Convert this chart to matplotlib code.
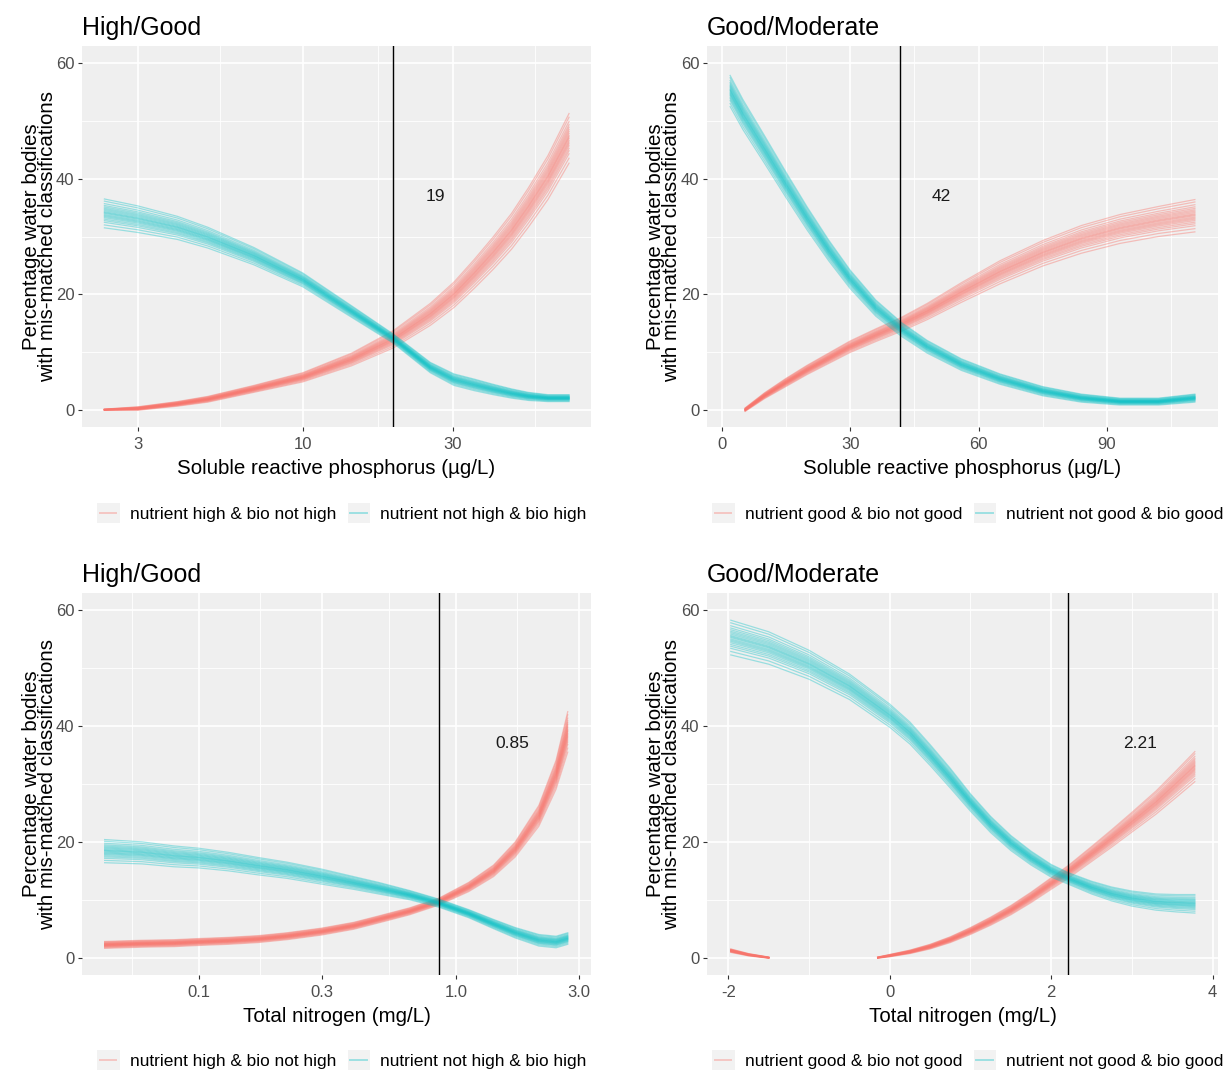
import numpy as np
import matplotlib
matplotlib.use('Agg')
import matplotlib.pyplot as plt
from matplotlib.lines import Line2D
from matplotlib.patches import Rectangle
from matplotlib.legend_handler import HandlerBase
from matplotlib.ticker import FixedLocator, FixedFormatter, NullFormatter

plt.rcParams['font.family'] = ['Liberation Sans', 'DejaVu Sans']

RED = '#F8766D'
CYAN = '#00BFC4'

# ---- data: x, centre of the bundle, half-width of the bundle ----
# High/Good, soluble reactive phosphorus (ug/L)
srp_hg_x = [2.35, 3.0, 4.0, 5.0, 7.0, 10, 14.3, 19.4, 25.4, 30.2, 35, 40.2, 46, 52, 60, 70]
srp_hg_red = [0.0, 0.2, 1.0, 1.8, 3.6, 5.6, 8.7, 12.2, 16.5, 19.9, 23.5, 27.1, 30.9, 35.0, 40.2, 47.0]
srp_hg_red_sd = [0.1, 0.3, 0.4, 0.5, 0.6, 0.8, 1.1, 1.5, 1.9, 2.2, 2.5, 2.8, 3.1, 3.4, 3.8, 4.3]
srp_hg_cyan = [34.0, 33.0, 31.5, 29.8, 26.6, 22.5, 17.0, 12.3, 7.3, 5.2, 4.3, 3.5, 2.8, 2.3, 2.0, 2.0]
srp_hg_cyan_sd = [2.5, 2.3, 2.0, 1.8, 1.5, 1.2, 1.0, 0.8, 0.9, 1.0, 1.0, 0.9, 0.8, 0.7, 0.6, 0.6]

# Good/Moderate, soluble reactive phosphorus (ug/L)
srp_gm_red_x = [5.5, 10, 15, 20, 25, 30, 36, 42, 48, 56, 65, 75, 84, 93, 102, 110.5]
srp_gm_red = [0.0, 2.4, 4.7, 6.9, 8.9, 10.9, 12.9, 14.8, 17.0, 20.3, 23.8, 27.1, 29.5, 31.3, 32.6, 33.6]
srp_gm_red_sd = [0.3, 0.5, 0.7, 0.8, 0.9, 1.0, 1.1, 1.2, 1.4, 1.7, 2.0, 2.2, 2.4, 2.5, 2.6, 2.8]
srp_gm_cyan_x = [2, 5, 10, 15, 20, 25, 30, 36, 42, 48, 56, 65, 75, 84, 93, 102, 110.5]
srp_gm_cyan = [55.2, 51.1, 45.1, 39.0, 33.1, 27.6, 22.6, 17.6, 13.9, 10.9, 7.8, 5.3, 3.2, 2.0, 1.4, 1.4, 2.0]
srp_gm_cyan_sd = [2.7, 2.6, 2.4, 2.2, 2.0, 1.8, 1.6, 1.4, 1.2, 1.1, 1.0, 0.9, 0.8, 0.7, 0.6, 0.6, 0.7]

# High/Good, total nitrogen (mg/L)
tn_hg_x = [0.043, 0.06, 0.08, 0.1, 0.13, 0.17, 0.22, 0.3, 0.4, 0.5, 0.66, 0.86, 1.12, 1.4, 1.7, 2.1, 2.45, 2.72]
tn_hg_red = [2.2, 2.4, 2.5, 2.7, 2.9, 3.2, 3.7, 4.5, 5.5, 6.6, 8.0, 9.7, 12.2, 15.0, 18.7, 24.5, 31.6, 39.0]
tn_hg_red_sd = [0.6, 0.6, 0.6, 0.6, 0.6, 0.6, 0.6, 0.6, 0.6, 0.6, 0.6, 0.6, 0.8, 1.0, 1.3, 1.8, 2.5, 3.5]
tn_hg_cyan = [18.4, 18.1, 17.5, 17.2, 16.6, 15.8, 15.1, 14.0, 12.9, 12.0, 10.8, 9.4, 7.6, 5.8, 4.3, 3.0, 2.7, 3.3]
tn_hg_cyan_sd = [2.0, 1.9, 1.8, 1.7, 1.6, 1.5, 1.4, 1.3, 1.1, 1.0, 0.8, 0.7, 0.7, 0.8, 0.9, 1.0, 1.0, 1.0]

# Good/Moderate, total nitrogen (mg/L) - red bundle has a gap (values below 0 dropped)
tn_gm_red_x = [-1.97, -1.75, -1.5, -0.8, -0.15, 0, 0.25, 0.5, 0.75, 1.0, 1.25, 1.5, 1.75, 2.0, 2.21,
               2.5, 2.75, 3.0, 3.3, 3.55, 3.78]
tn_gm_red = [1.2, 0.5, 0.0, np.nan, 0.0, 0.35, 1.0, 1.9, 3.1, 4.6, 6.3, 8.2, 10.4, 12.8, 14.8,
             17.9, 20.6, 23.4, 26.8, 30.0, 33.0]
tn_gm_red_sd = [0.3, 0.2, 0.1, np.nan, 0.1, 0.2, 0.3, 0.4, 0.5, 0.6, 0.7, 0.8, 0.9, 1.0, 1.1,
                1.3, 1.5, 1.7, 2.0, 2.3, 2.6]
tn_gm_cyan_x = [-1.97, -1.5, -1.0, -0.5, 0, 0.25, 0.5, 0.75, 1.0, 1.25, 1.5, 1.75, 2.0, 2.21,
                2.5, 2.75, 3.0, 3.3, 3.55, 3.78]
tn_gm_cyan = [55.3, 53.5, 50.6, 46.8, 41.8, 38.8, 35.0, 31.0, 26.8, 23.0, 19.8, 17.2, 15.0, 13.7,
              12.1, 11.0, 10.2, 9.6, 9.4, 9.3]
tn_gm_cyan_sd = [3.0, 2.8, 2.5, 2.2, 2.0, 1.9, 1.8, 1.7, 1.5, 1.4, 1.3, 1.2, 1.1, 1.0,
                 1.1, 1.2, 1.3, 1.4, 1.5, 1.6]

thresholds = [19.4, 41.6, 0.86, 2.21]
threshold_labels = ['19', '42', '0.85', '2.21']
titles = ['High/Good', 'Good/Moderate', 'High/Good', 'Good/Moderate']
xlabels = ['Soluble reactive phosphorus (\u00b5g/L)', 'Soluble reactive phosphorus (\u00b5g/L)',
           'Total nitrogen (mg/L)', 'Total nitrogen (mg/L)']
legend_hg = ['nutrient high & bio not high', 'nutrient not high & bio high']
legend_gm = ['nutrient good & bio not good', 'nutrient not good & bio good']

# relative positions of the individual bootstrap curves inside a bundle
boot_offsets = [-1.0, -0.8, -0.62, -0.5, -0.4, -0.3, -0.22, -0.15, -0.08, 0.0,
                0.06, 0.12, 0.2, 0.28, 0.36, 0.45, 0.55, 0.68, 0.85, 1.0]


class KeyBox(HandlerBase):
    # ggplot-style legend key: grey square with a faint line
    def create_artists(self, legend, orig_handle, xdescent, ydescent, width, height, fontsize, trans):
        box = Rectangle((-xdescent, -ydescent), width, height, facecolor='#F2F2F2',
                        edgecolor='none', transform=trans)
        ln = Line2D([-xdescent + 0.1 * width, -xdescent + 0.85 * width],
                    [height / 2 - ydescent] * 2, color=orig_handle.get_color(),
                    alpha=0.35, lw=1.4, transform=trans)
        return [box, ln]


W, H = 1223, 1070
fig = plt.figure(figsize=(W / 100, H / 100), dpi=100)


def px_axes(left, top, right, bottom):
    return fig.add_axes([left / W, 1 - bottom / H, (right - left) / W, (bottom - top) / H])


def bundle(ax, x, y, sd, color, alpha):
    x = np.asarray(x, float)
    y = np.asarray(y, float)
    sd = np.asarray(sd, float)
    for f in boot_offsets:
        ax.plot(x, y + f * sd, color=color, lw=0.9, alpha=alpha, zorder=2)


def panel(ax, i, red, cyan, log, xlim, xticks, xticklabels, xminor, label_x, legend_labels, legend_xy):
    ax.set_facecolor('#EFEFEF')
    for s in ax.spines.values():
        s.set_visible(False)
    if log:
        ax.set_xscale('log')
    bundle(ax, *red, RED, 0.42)
    bundle(ax, *cyan, CYAN, 0.36)
    ax.axvline(thresholds[i], color='black', lw=1.0, zorder=3)
    ax.text(label_x, 37.0, threshold_labels[i], ha='center', va='center', fontsize=12.5, color='#1A1A1A')

    ax.set_xlim(*xlim)
    ax.set_ylim(-3, 63)
    ax.xaxis.set_major_locator(FixedLocator(xticks))
    ax.xaxis.set_major_formatter(FixedFormatter(xticklabels))
    ax.xaxis.set_minor_locator(FixedLocator(xminor))
    ax.xaxis.set_minor_formatter(NullFormatter())
    ax.yaxis.set_major_locator(FixedLocator([0, 20, 40, 60]))
    ax.yaxis.set_minor_locator(FixedLocator([10, 30, 50]))
    ax.grid(which='major', color='white', lw=1.2)
    ax.grid(which='minor', color='white', lw=0.6)
    ax.set_axisbelow(True)
    ax.tick_params(which='major', length=3, width=0.8, color='#333333', labelcolor='#4D4D4D',
                   labelsize=12, pad=2.5)
    ax.tick_params(axis='x', which='major', pad=4.5)
    ax.tick_params(which='minor', length=0)

    ax.set_title(titles[i], loc='left', fontsize=18, pad=8)
    ax.set_xlabel(xlabels[i], fontsize=14.8)
    ax.xaxis.set_label_coords(0.5, -0.083)
    ax.set_ylabel('Percentage water bodies\nwith mis-matched classifications', fontsize=14.8, linespacing=0.8)
    ax.yaxis.set_label_coords(-0.05, 0.5)

    handles = [Line2D([], [], color=RED), Line2D([], [], color=CYAN)]
    fig.legend(handles, legend_labels, handler_map={Line2D: KeyBox()}, loc='center',
               bbox_to_anchor=(legend_xy[0] / W, 1 - legend_xy[1] / H), ncol=2, frameon=False,
               fontsize=12.4, handlelength=1.3, handleheight=1.35, handletextpad=0.6,
               columnspacing=0.65, borderpad=0, borderaxespad=0)


ax1 = px_axes(82, 46, 591, 427)
panel(ax1, 0, (srp_hg_x, srp_hg_red, srp_hg_red_sd), (srp_hg_x, srp_hg_cyan, srp_hg_cyan_sd),
      True, (1.995, 82.2), [3, 10, 30], ['3', '10', '30'], [5.48, 17.3, 54.8], 26.3,
      legend_hg, (342, 513))

ax2 = px_axes(707, 46, 1218, 427)
panel(ax2, 1, (srp_gm_red_x, srp_gm_red, srp_gm_red_sd), (srp_gm_cyan_x, srp_gm_cyan, srp_gm_cyan_sd),
      False, (-3.4, 115.9), [0, 30, 60, 90], ['0', '30', '60', '90'], [15, 45, 75, 105], 51.3,
      legend_gm, (968, 513))

ax3 = px_axes(82, 593, 591, 975)
panel(ax3, 2, (tn_hg_x, tn_hg_red, tn_hg_red_sd), (tn_hg_x, tn_hg_cyan, tn_hg_cyan_sd),
      True, (0.0351, 3.35), [0.1, 0.3, 1.0, 3.0], ['0.1', '0.3', '1.0', '3.0'],
      [0.0548, 0.173, 0.548, 1.73], 1.65, legend_hg, (342, 1060))

ax4 = px_axes(707, 593, 1218, 975)
panel(ax4, 3, (tn_gm_red_x, tn_gm_red, tn_gm_red_sd), (tn_gm_cyan_x, tn_gm_cyan, tn_gm_cyan_sd),
      False, (-2.265, 4.067), [-2, 0, 2, 4], ['-2', '0', '2', '4'], [-1, 1, 3], 3.10,
      legend_gm, (968, 1060))

fig.savefig('out.png', dpi=100, facecolor='white')
